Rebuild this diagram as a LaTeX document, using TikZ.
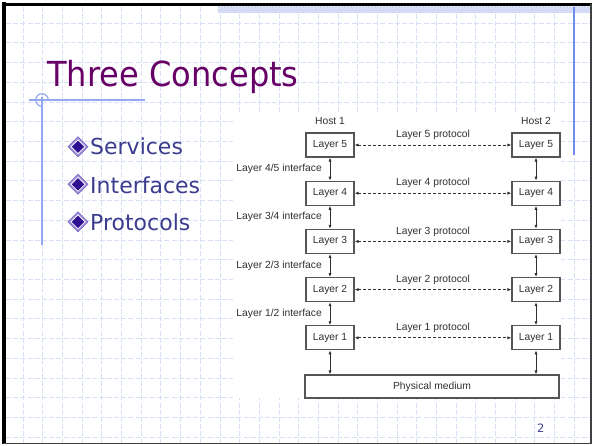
\documentclass[tikz,border=0pt]{standalone}
\usepackage{fontspec}
\usetikzlibrary{arrows.meta,patterns,calc}
\newfontfamily\slidefont{DejaVu Sans}
\newfontfamily\titlefont[FakeStretch=0.93]{DejaVu Sans}
\newfontfamily\figfont{Liberation Sans}
\definecolor{gridblue}{HTML}{D8E0F8}
\definecolor{ruleblue}{HTML}{93A9F2}
\definecolor{edgeblue}{HTML}{6F8CEE}
\definecolor{stripblue}{HTML}{E2E7FA}
\definecolor{stripdot}{HTML}{C8D2F3}
\definecolor{titlepurple}{HTML}{660066}
\definecolor{bullettext}{HTML}{3C3C8E}
\definecolor{bulletout}{HTML}{A596DC}
\definecolor{bulletedge}{HTML}{6F58BE}
\definecolor{bulletin}{HTML}{2E1090}
\definecolor{figink}{HTML}{303030}
\definecolor{boxline}{HTML}{555555}
\definecolor{pagenum}{HTML}{4343A0}
\tikzset{
  gridline/.style={draw=gridblue, line width=0.55pt, dash pattern=on 5pt off 2.2pt},
  layerbox/.style={draw=boxline, line width=1.1pt, fill=white, minimum width=48pt,
    minimum height=24pt, inner sep=0pt, text=figink, font=\figfont\fontsize{10.3}{12}\selectfont},
  figlabel/.style={inner sep=0pt, text=figink, font=\figfont\fontsize{10.3}{12}\selectfont},
  stackarrow/.style={draw=figink, line width=0.9pt, {Latex[length=4pt,width=3.2pt]}-{Latex[length=4pt,width=3.2pt]}},
  protoarrow/.style={draw=figink, line width=0.8pt, dash pattern=on 3pt off 2pt,
    {Latex[length=4pt,width=3.2pt]}-{Latex[length=4pt,width=3.2pt]}},
  bullettxt/.style={anchor=base west, inner sep=0pt, text=bullettext, font=\slidefont\fontsize{22}{26}\selectfont}
}
\newcommand{\slidebullet}[2]{%
  \begin{scope}[shift={(#1,#2)}]
    \filldraw[fill=bulletout, draw=bulletedge, line width=0.6pt] (-10,0) -- (0,-10) -- (10,0) -- (0,10) -- cycle;
    \fill[white] (-7.4,0) -- (0,-7.4) -- (7.4,0) -- (0,7.4) -- cycle;
    \fill[bulletin] (-6.2,0) -- (0,-6.2) -- (6.2,0) -- (0,6.2) -- cycle;
  \end{scope}}
\begin{document}
\begin{tikzpicture}[x=1pt,y=-1pt]
  % page
  \useasboundingbox (0,0) rectangle (592,445);
  \fill[white] (0,0) rectangle (592,445);

  % dashed background grid
  \foreach \i in {0,...,28} \draw[gridline] ({23+19.68*\i},6.5) -- ({23+19.68*\i},442.5);
  \foreach \j in {0,...,21} \draw[gridline] (6,{23+19.71*\j}) -- (590,{23+19.71*\j});

  % top strip
  \fill[stripblue] (218,6.5) rectangle (590,12.7);
  \fill[pattern=crosshatch, pattern color=stripdot] (218,6.5) rectangle (590,12.7);

  % right edge rule
  \draw[edgeblue, line width=1.2pt] (574,6.5) -- (574,155);

  % title rules
  \draw[ruleblue, line width=1.3pt] (29,100) -- (145,100);
  \draw[ruleblue, line width=1.3pt] (42,97) -- (42,245);
  \draw[ruleblue, line width=1.2pt] (42,100) ++(90:6.3) arc[start angle=90, end angle=360, radius=6.3];

  % title
  \node[anchor=base west, inner sep=0pt, text=titlepurple, font=\titlefont\fontsize{34.5}{40}\selectfont]
    (title) at (47,86) {Three Concepts};

  % bullet list
  \slidebullet{78}{146.7}
  \node[bullettxt] (services) at (90,154) {Services};
  \slidebullet{78}{184.3}
  \node[bullettxt] (interfaces) at (90,193) {Interfaces};
  \slidebullet{78}{221.8}
  \node[bullettxt] (protocols) at (90,230.5) {Protocols};

  % layer figure
  \fill[white] (233,115) rectangle (561,398);

  \foreach \k/\y in {5/145,4/193.2,3/241.4,2/289.6,1/337.8} {
    \node[layerbox] (L\k) at (330,\y) {Layer \k};
    \node[layerbox] (R\k) at (536,\y) {Layer \k};
  }
  \node[layerbox, minimum width=254pt, minimum height=23pt] (phys) at (432,386.5) {Physical medium};

  \node[figlabel] (host1) at ($(L5.north)+(0,-11)$) {Host 1};
  \node[figlabel] (host2) at ($(R5.north)+(0,-11)$) {Host 2};

  % interfaces between adjacent layers
  \foreach \u/\l in {5/4,4/3,3/2,2/1} {
    \draw[stackarrow] (L\u.south) -- (L\l.north);
    \draw[stackarrow] (R\u.south) -- (R\l.north);
    \node[figlabel, anchor=east] (if\l) at ($(L\u.south)!0.5!(L\l.north)+(-8,0)$) {Layer \l/\u\ interface};
  }
  \draw[stackarrow] (L1.south) -- (L1.south |- phys.north);
  \draw[stackarrow] (R1.south) -- (R1.south |- phys.north);

  % peer protocols
  \foreach \k in {5,4,3,2,1} {
    \draw[protoarrow] (L\k.east) -- (R\k.west);
    \node[figlabel] (p\k) at ($(L\k.east)!0.5!(R\k.west)+(0,-10)$) {Layer \k\ protocol};
  }

  % page number
  \node[inner sep=0pt, text=pagenum, font=\slidefont\fontsize{11.5}{13}\selectfont] (pg) at (540.7,428) {2};

  % slide frame
  \draw[black, line width=3.5pt] (3.9,2) -- (3.9,444);
  \draw[black, line width=3.5pt] (2,4.6) -- (592,4.6);
  \draw[black!75, line width=1.5pt] (591,4) -- (591,444);
  \draw[black!75, line width=1.5pt] (3,443.6) -- (592,443.6);
\end{tikzpicture}
\end{document}
